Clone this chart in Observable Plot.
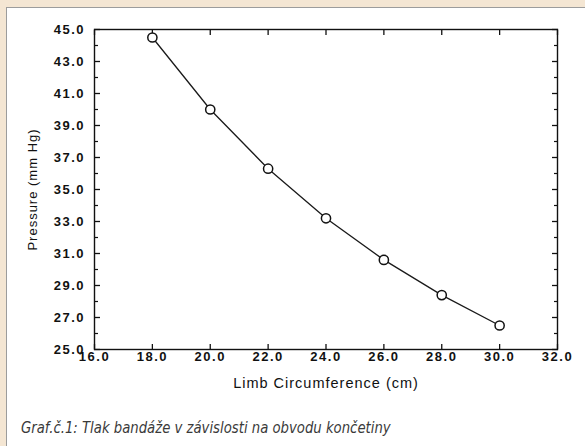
<!DOCTYPE html>
<html>
<head>
<meta charset="utf-8">
<script src="https://cdn.jsdelivr.net/npm/d3@7"></script>
<script src="https://cdn.jsdelivr.net/npm/@observablehq/plot@0.6"></script>
<style>
html, body { margin: 0; padding: 0; background: #f4e6d3; width: 585px; height: 446px; overflow: hidden; }
#panel { position: absolute; left: 6px; top: 7px; width: 579px; height: 439px; background: #ffffff;
  border-left: 1px solid #9c9c9c; border-top: 1px solid #9c9c9c; }
#chart { position: absolute; left: 0; top: 0; }
#caption { position: absolute; left: 14px; top: 410px; margin: 0; line-height: 20px;
  font-family: "Liberation Sans Narrow", "DejaVu Sans Condensed", "Liberation Sans", sans-serif;
  font-style: italic; font-size: 16px; color: #3a3a3a; white-space: nowrap;
  transform: scaleX(0.92); transform-origin: 0 50%; }
g[aria-label="y-axis tick label"], g[aria-label="x-axis tick label"] {
  font-family: "Liberation Sans", Arial, sans-serif; font-weight: bold; font-size: 13px; letter-spacing: 1.5px; fill: #111;
}
g[aria-label="text"] { letter-spacing: 1px; }
</style>
</head>
<body>
<div id="panel">
  <div id="chart"></div>
  <div id="caption"></div>
</div>
<script>
// ---- data ----
const circumference = [18, 20, 22, 24, 26, 28, 30];
const pressure = [44.5, 40.0, 36.3, 33.2, 30.6, 28.4, 26.5];
const xTicks = [16, 18, 20, 22, 24, 26, 28, 30, 32];
const yTicks = [25, 27, 29, 31, 33, 35, 37, 39, 41, 43, 45];
const yMinorTicks = [26, 28, 30, 32, 34, 36, 38, 40, 42, 44];
const xTitle = "Limb Circumference (cm)";
const yTitle = "Pressure (mm Hg)";
const captionText = "Graf.č.1: Tlak bandáže v závislosti na obvodu končetiny";

const data = circumference.map((c, i) => ({c, p: pressure[i]}));
const fmt = d => d.toFixed(1);
const blank = () => "";

const chart = Plot.plot({
  width: 578,
  height: 400,
  marginLeft: 87,
  marginRight: 28,
  marginTop: 21,
  marginBottom: 59,
  style: {background: "transparent", fontFamily: "Liberation Sans, Arial, sans-serif", color: "#111"},
  x: {domain: [16, 32], label: null},
  y: {domain: [25, 45], label: null},
  marks: [
    Plot.axisX({anchor: "bottom", ticks: xTicks, tickFormat: fmt, tickSize: -5, tickPadding: 7, label: null, strokeWidth: 1.3}),
    Plot.axisX({anchor: "top", ticks: xTicks, tickFormat: blank, tickSize: -5, label: null, strokeWidth: 1.3}),
    Plot.axisY({anchor: "left", ticks: yTicks, tickFormat: fmt, tickSize: -6, tickPadding: 15.5, label: null, strokeWidth: 1.3}),
    Plot.axisY({anchor: "left", ticks: yMinorTicks, tickFormat: blank, tickSize: -4, label: null, strokeWidth: 1.2}),
    Plot.axisY({anchor: "right", ticks: yTicks, tickFormat: blank, tickSize: -6, label: null, strokeWidth: 1.3}),
    Plot.axisY({anchor: "right", ticks: yMinorTicks, tickFormat: blank, tickSize: -4, label: null, strokeWidth: 1.2}),
    Plot.frame({stroke: "#111", strokeWidth: 1.4}),
    Plot.line(data, {x: "c", y: "p", stroke: "#1a1a1a", strokeWidth: 1.3}),
    Plot.dot(data, {x: "c", y: "p", r: 4.6, fill: "white", stroke: "#111", strokeWidth: 1.5}),
    Plot.text([xTitle], {frameAnchor: "bottom", dy: 34, lineAnchor: "middle", textAnchor: "middle", text: d => d,
      fontSize: 14.5, fill: "#111", fontFamily: "Liberation Sans, Arial, sans-serif"}),
    Plot.text([yTitle], {frameAnchor: "left", dx: -62, rotate: -90, lineAnchor: "middle", textAnchor: "middle", text: d => d,
      fontSize: 13, fill: "#111", fontFamily: "Liberation Sans, Arial, sans-serif"})
  ]
});
document.getElementById("chart").appendChild(chart);
document.getElementById("caption").textContent = captionText;
</script>
</body>
</html>
